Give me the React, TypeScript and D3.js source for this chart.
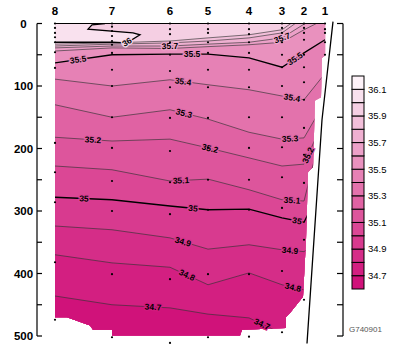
import React from 'react';
import * as d3 from 'd3';

// stations along the section, distance in km from station 8
const stations = ['8', '7', '6', '5', '4', '3', '2', '1'];
const stationKm = [0, 57, 115, 153, 194, 227, 249, 270];

// sample depths (m) at each station
const sampleDepths = [
  [0, 7, 15, 22, 30, 46, 71, 191, 238, 286, 382, 474],
  [0, 5, 12, 20, 28, 34, 47, 74, 100, 150, 199, 252, 300, 401, 502],
  [0, 9, 17, 30, 50, 76, 102, 151, 204, 254, 305, 409, 511],
  [0, 9, 15, 30, 47, 74, 102, 151, 199, 250, 298, 401, 502],
  [0, 9, 17, 30, 47, 74, 102, 150, 199, 250, 298, 401, 501],
  [0, 7, 15, 30, 50, 70, 100, 150, 198, 246, 295, 396, 494],
  [0, 7, 15, 26, 50, 70, 94, 122, 167, 210, 255, 346, 442],
  [0, 9, 15, 30, 50],
];

// salinity contour levels and their depth (m) at each station
const levels = [35.9, 35.8, 35.7, 35.6, 35.5, 35.4, 35.3, 35.2, 35.1, 35.0, 34.9, 34.8, 34.7];
const contourDepths = [
  [33, 31, 28, 23, 18, 10, -15, -50],
  [36, 33, 31, 28, 23, 15, -10, -40],
  [39, 36, 36, 33, 30, 23, 1, -20],
  [44, 39, 40, 37, 34, 30, 10, -7],
  [63, 50, 49, 49, 55, 70, 47, 26],
  [89, 100, 90, 98, 106, 116, 122, 80],
  [130, 150, 138, 153, 174, 185, 183, 125],
  [182, 188, 185, 199, 215, 228, 225, 150],
  [228, 234, 252, 249, 266, 282, 284, 150],
  [278, 282, 292, 298, 297, 311, 318, 250],
  [324, 330, 343, 361, 354, 362, 365, 340],
  [370, 383, 390, 418, 399, 418, 426, 420],
  [436, 450, 455, 465, 471, 496, 520, 520],
];

// the 36 isohaline near the surface
const loop36Km = [0, 57, 72, 85, 78, 33, 37, 50];
const loop36Depth = [30, 30, 31, 18, 15, 9, 2, 0];

// contour labels: level and km position
const labelLevels = [35.7, 35.7, 35.5, 35.5, 35.5, 35.4, 35.4, 35.3, 35.3, 35.2, 35.2, 35.2, 35.1, 35.1, 35.0, 35.0, 35.0, 34.9, 34.9, 34.8, 34.8, 34.7, 34.7];
const labelKm = [115, 227, 23, 137, 240, 128, 237, 129, 235, 38, 155, 253, 126, 237, 29, 138, 242, 128, 235, 132, 238, 98, 207];

// outline of the sampled section (km, depth)
const sectionKm = [0, 271, 271, 267, 266, 260, 258, 253, 251, 248, 235, 231, 231, 187, 185, 57, 57, 38, 35, 12, 0];
const sectionDepth = [0, 0, 50, 55, 118, 123, 230, 238, 346, 437, 463, 470, 487, 490, 499, 499, 490, 490, 483, 470, 470];

// shelf slope line
const slopeKm = [278, 267, 252];
const slopeDepth = [-3, 154, 512];

const legendTicks = [36.1, 35.9, 35.7, 35.5, 35.3, 35.1, 34.9, 34.7];

export default function App() {
  const x = d3.scaleLinear().domain([0, 270]).range([55, 325]);
  const y = d3.scaleLinear().domain([0, 500]).range([23.5, 336]);
  const color = d3
    .scaleLinear<string>()
    .domain([34.65, 35.25, 35.95, 36.05, 36.15])
    .range(['#d0127a', '#e062a3', '#f5cfe3', '#f9e1ee', '#fdf2f8'])
    .interpolate(d3.interpolateRgb);

  const font = '"Liberation Sans", Arial, sans-serif';
  const bottom = y(560);

  const sectionPath = d3.line<number>()
    .x((_, i) => x(sectionKm[i]))
    .y((d) => y(d))(sectionDepth) + 'Z';

  const area = d3.area<number>()
    .x((_, i) => x(stationKm[i]))
    .y0((d) => y(d))
    .y1(bottom);
  const line = d3.line<number>()
    .x((_, i) => x(stationKm[i]))
    .y((d) => y(d));

  const loopLine = d3.line<number>()
    .x((_, i) => x(loop36Km[i]))
    .y((d) => y(d));
  const loopFill = loopLine(loop36Depth) + `L${x(0)},${y(0)}Z`;

  const slopeLine = d3.line<number>()
    .x((_, i) => x(slopeKm[i]))
    .y((d) => y(d))(slopeDepth);

  const labels = labelLevels.map((lv, j) => {
    const i = levels.indexOf(lv);
    const s = d3.scaleLinear().domain(stationKm).range(contourDepths[i]);
    const km = labelKm[j];
    const px = x(km);
    const py = y(s(km));
    const dx = x(km + 2) - x(km - 2);
    const dy = y(s(km + 2)) - y(s(km - 2));
    const ang = (Math.atan2(dy, dx) * 180) / Math.PI;
    const text = lv === 35 ? '35' : lv.toFixed(1);
    return { px, py, ang, text, lv };
  });

  const l36x = x(loop36Km[2]);
  const l36y = y(loop36Depth[2]) - 1;
  const l36a = (Math.atan2(y(loop36Depth[3]) - y(loop36Depth[2]), x(loop36Km[3]) - x(loop36Km[2])) * 180) / Math.PI;

  const ly = d3.scaleLinear().domain([34.6, 36.2]).range([289, 76]);
  const legendSteps = d3.range(16).map((i) => 34.6 + i * 0.1);

  const ticks = y.ticks(10);

  return (
    <svg width={400} height={352} style={{ position: 'absolute', left: 0, top: 0, background: '#fff' }} fontFamily={font}>
      <defs>
        <clipPath id="sec">
          <path d={sectionPath} />
        </clipPath>
      </defs>

      <g clipPath="url(#sec)">
        <path d={sectionPath} fill={color(35.95)} />
        <path d={loopFill} fill={color(36.05)} />
        {levels.map((lv, i) => (
          <path key={'a' + lv} d={area(contourDepths[i]) || ''} fill={color(lv - 0.05)} />
        ))}
        {levels.map((lv, i) => {
          const thick = Math.abs(lv * 2 - Math.round(lv * 2)) < 1e-6;
          return (
            <path key={'l' + lv} d={line(contourDepths[i]) || ''} fill="none"
              stroke={thick ? '#000' : '#333'} strokeWidth={thick ? 1.3 : 0.65} />
          );
        })}
        <path d={loopLine(loop36Depth) || ''} fill="none" stroke="#000" strokeWidth={1.3} />
      </g>

      {/* surface line */}
      <line x1={x(sectionKm[0])} x2={x(sectionKm[1])} y1={y(0)} y2={y(0)} stroke="#000" strokeWidth={1} />

      {/* contour labels */}
      {labels.map((l, i) => (
        <text key={'t' + i} transform={`translate(${l.px},${l.py}) rotate(${l.ang})`}
          textAnchor="middle" dy="0.35em" fontSize={8.5} fontWeight="bold"
          stroke={color(l.lv)} strokeWidth={2.5} paintOrder="stroke" fill="#000">{l.text}</text>
      ))}
      <text transform={`translate(${l36x},${l36y}) rotate(${l36a})`} textAnchor="middle" dy="0.35em"
        fontSize={8.5} fontWeight="bold" stroke={color(36.0)} strokeWidth={2.5} paintOrder="stroke" fill="#000">36</text>

      {/* sample dots */}
      {sampleDepths.map((ds, i) =>
        ds.map((d, k) => <circle key={i + '-' + k} cx={x(stationKm[i])} cy={y(d)} r={1.1} fill="#000" />)
      )}

      {/* slope */}
      <path d={slopeLine || ''} fill="none" stroke="#000" strokeWidth={1.3} />

      {/* station labels */}
      {stations.map((s, i) => (
        <text key={'s' + s} x={x(stationKm[i])} y={15} textAnchor="middle" fontSize={11.5} fontWeight="bold">{s}</text>
      ))}

      {/* left axis */}
      <line x1={37} x2={37} y1={y(0)} y2={y(500)} stroke="#000" strokeWidth={1.2} />
      {ticks.map((t) => (
        <g key={'lt' + t}>
          <line x1={37} x2={42} y1={y(t)} y2={y(t)} stroke="#000" strokeWidth={1.2} />
          {t % 100 === 0 && (
            <text x={23.5} y={y(t)} dy="0.35em" textAnchor="middle" fontSize={11.5} fontWeight="bold">{t}</text>
          )}
        </g>
      ))}

      {/* right axis */}
      <line x1={343} x2={343} y1={y(0)} y2={y(500)} stroke="#000" strokeWidth={1.2} />
      {ticks.map((t) => (
        <line key={'rt' + t} x1={337} x2={343} y1={y(t)} y2={y(t)} stroke="#000" strokeWidth={1.2} />
      ))}

      {/* legend */}
      {legendSteps.map((v) => (
        <rect key={'lg' + v.toFixed(1)} x={352} y={ly(v + 0.1)} width={12} height={ly(v) - ly(v + 0.1)}
          fill={color(v + 0.05)} stroke="#000" strokeWidth={1} />
      ))}
      {legendTicks.map((v) => (
        <text key={'lk' + v} x={368} y={ly(v)} dy="0.35em" fontSize={9.5}>{v.toFixed(1)}</text>
      ))}

      <text x={349} y={332} fontSize={8} fill="#555">G740901</text>
    </svg>
  );
}
